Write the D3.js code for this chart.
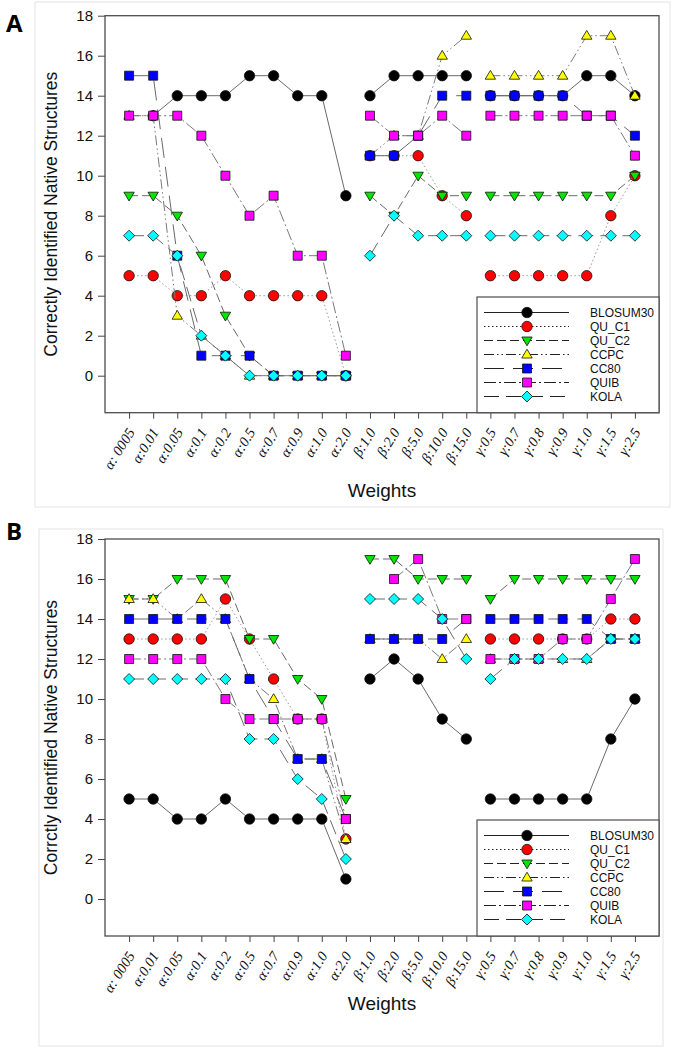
<!DOCTYPE html>
<html>
<head>
<meta charset="utf-8">
<script src="https://cdn.jsdelivr.net/npm/d3@7"></script>
<style>
  html, body { margin: 0; padding: 0; background: #fff; }
  svg { display: block; }
</style>
</head>
<body>
<svg id="chart" width="673" height="1050"></svg>
<script>
// ---------- DATA ----------
const categories = ["α: 0005","α:0.01","α:0.05","α:0.1","α:0.2","α:0.5","α:0.7","α:0.9","α:1.0","α:2.0",
  "β:1.0","β:2.0","β:5.0","β:10.0","β:15.0",
  "γ:0.5","γ:0.7","γ:0.8","γ:0.9","γ:1.0","γ:1.5","γ:2.5"];
const seriesNames = ["BLOSUM30","QU_C1","QU_C2","CCPC","CC80","QUIB","KOLA"];
const yTicks = [0,2,4,6,8,10,12,14,16,18];

// Panel A (null = no visible point)
const A_BLOSUM30 = [null,13,14,14,14,15,15,14,14,9, 14,15,15,15,15, 14,14,14,14,15,15,14];
const A_QU_C1    = [5,5,4,4,5,4,4,4,4,0,          11,11,11,9,8,    5,5,5,5,5,8,10];
const A_QU_C2    = [9,9,8,6,3,1,0,0,0,0,          9,8,10,9,9,      9,9,9,9,9,9,10];
const A_CCPC     = [13,13,3,2,1,0,0,0,0,0,        11,12,12,16,17,  15,15,15,15,17,17,14];
const A_CC80     = [15,15,6,1,1,1,0,0,0,0,        11,11,12,14,14,  14,14,14,14,13,13,12];
const A_QUIB     = [13,13,13,12,10,8,9,6,6,1,     13,12,12,13,12,  13,13,13,13,13,13,11];
const A_KOLA     = [7,7,6,2,1,0,0,0,0,0,          6,8,7,7,7,       7,7,7,7,7,7,7];

// Panel B
const B_BLOSUM30 = [5,5,4,4,5,4,4,4,4,1,          11,12,11,9,8,    5,5,5,5,5,8,10];
const B_QU_C1    = [13,13,13,13,15,13,11,9,9,3,   null,null,null,null,null, 13,13,13,13,13,14,14];
const B_QU_C2    = [15,15,16,16,16,13,13,11,10,5, 17,17,16,16,16,  15,16,16,16,16,16,16];
const B_CCPC     = [15,15,14,15,14,11,10,7,7,3,   13,13,13,12,13,  12,12,12,12,12,13,13];
const B_CC80     = [14,14,14,14,14,11,9,7,7,4,    13,13,13,13,14,  14,14,14,14,14,13,13];
const B_QUIB     = [12,12,12,12,10,9,9,9,9,4,     null,16,17,14,14, 12,12,12,13,13,15,17];
const B_KOLA     = [11,11,11,11,11,8,8,6,5,2,     15,15,15,14,12,  11,12,12,12,12,13,13];

// ---------- STYLES ----------
const styles = {
  BLOSUM30: {fill:"#000000", shape:"circle",   dash:null,               color:"#6a6a6a"},
  QU_C1:    {fill:"#ff0000", shape:"circle",   dash:"1.5,2.5",          color:"#9a9a9a"},
  QU_C2:    {fill:"#00e600", shape:"tridown",  dash:"9,4",              color:"#6a6a6a"},
  CCPC:     {fill:"#ffff00", shape:"triup",    dash:"10,3,1.5,3,1.5,3", color:"#7a7a7a"},
  CC80:     {fill:"#0000ff", shape:"square",   dash:"20,9",             color:"#6a6a6a"},
  QUIB:     {fill:"#ff00ff", shape:"square",   dash:"12,3,2,3",         color:"#7a7a7a"},
  KOLA:     {fill:"#00ffff", shape:"diamond",  dash:"15,7",             color:"#6a6a6a"}
};

function markerPath(shape) {
  switch (shape) {
    case "circle": return d3.symbol().type(d3.symbolCircle).size(Math.PI*5.2*5.2)();
    case "square": { const h=4.5; return `M${-h},${-h}H${h}V${h}H${-h}Z`; }
    case "triup":  return "M0,-5.3L5.2,3.5L-5.2,3.5Z";
    case "tridown":return "M0,5.3L5.2,-3.5L-5.2,-3.5Z";
    case "diamond":{ const h=5.5; return `M0,${-h}L${h},0L0,${h}L${-h},0Z`; }
  }
}

const svg = d3.select("#chart");

function drawPanel(cfg) {
  const {top, bottom, left, right, letter, letterY, boxRect, ytitle, wY, data, legendTop} = cfg;

  svg.append("rect").attr("x", boxRect[0]).attr("y", boxRect[1])
    .attr("width", boxRect[2]-boxRect[0]).attr("height", boxRect[3]-boxRect[1])
    .attr("fill","none").attr("stroke","#e4e4e4").attr("stroke-width",1);

  svg.append("text").attr("x", 6).attr("y", letterY)
    .attr("font-family","'Open Sans', 'Liberation Sans', Arial, sans-serif")
    .attr("font-weight","bold").attr("font-size",24).attr("fill","#000").text(letter);

  const x = d3.scalePoint().domain(categories).range([left, right]).padding(1);
  const y = d3.scaleLinear().domain([-1.85, 18]).range([bottom, top]);

  const g = svg.append("g");

  const ya = g.append("g").attr("transform", `translate(${left},0)`)
    .call(d3.axisLeft(y).tickValues(yTicks).tickSize(7).tickPadding(5));
  ya.select(".domain").remove();
  ya.selectAll("line").attr("stroke","#444");
  ya.selectAll("text").attr("font-family","'Liberation Sans', Arial, sans-serif")
    .attr("font-size",15).attr("fill","#111");

  const xa = g.append("g").attr("transform", `translate(0,${bottom})`)
    .call(d3.axisBottom(x).tickSize(6).tickFormat(""));
  xa.select(".domain").remove();
  xa.selectAll("line").attr("stroke","#444");
  g.append("g").selectAll("text").data(categories).enter().append("text")
    .attr("transform", d => `translate(${x(d)+6.3},${bottom+19.5}) rotate(-58)`)
    .attr("text-anchor","end")
    .attr("font-family","'Liberation Serif', 'Times New Roman', serif")
    .attr("font-style","italic").attr("font-size",14.5).attr("fill","#111")
    .text(d => d);

  g.append("rect").attr("x", left).attr("y", top).attr("width", right-left).attr("height", bottom-top)
    .attr("fill","none").attr("stroke","#4d4d4d").attr("stroke-width",1.3);

  g.append("text")
    .attr("transform", `translate(${57},${(top+bottom)/2}) rotate(-90)`)
    .attr("text-anchor","middle")
    .attr("font-family","'Liberation Sans', Arial, sans-serif")
    .attr("font-size",17.5).attr("fill","#111").text(ytitle);
  g.append("text").attr("x", (left+right)/2).attr("y", wY)
    .attr("text-anchor","middle")
    .attr("font-family","'Liberation Sans', Arial, sans-serif")
    .attr("font-size",19).attr("fill","#111").text("Weights");

  // groups (lines break between α, β, γ)
  const groups = d3.groups(categories.map((c,i)=>({c,i})), d => d.c[0]).map(gp => gp[1].map(d => d.i));

  const line = d3.line().defined(d => d.v != null)
    .x(d => x(categories[d.i])).y(d => y(d.v));

  seriesNames.forEach((name, si) => {
    const st = styles[name];
    const vals = data[si];
    const sg = g.append("g");
    groups.forEach(idx => {
      const pts = idx.map(i => ({i, v: vals[i]}));
      sg.append("path").attr("d", line(pts)).attr("fill","none")
        .attr("stroke", st.color).attr("stroke-width", 1)
        .attr("stroke-dasharray", st.dash);
    });
    sg.selectAll("path.m").data(vals.map((v,i)=>({v,i})).filter(d => d.v != null)).enter().append("path")
      .attr("class","m")
      .attr("d", markerPath(st.shape))
      .attr("transform", d => `translate(${x(categories[d.i])},${y(d.v)})`)
      .attr("fill", st.fill).attr("stroke","#111").attr("stroke-width",0.8);
  });

  const lg = g.append("g");
  lg.append("rect").attr("x", 477).attr("y", legendTop).attr("width", right-477).attr("height", bottom-legendTop)
    .attr("fill","#fff").attr("stroke","#4d4d4d").attr("stroke-width",1.2);
  seriesNames.forEach((name, i) => {
    const st = styles[name];
    const ly = legendTop + 15.5 + i*14;
    lg.append("line").attr("x1", 484).attr("x2", 569).attr("y1", ly).attr("y2", ly)
      .attr("stroke","#222").attr("stroke-width",1.2).attr("stroke-dasharray", st.dash);
    lg.append("path").attr("d", markerPath(st.shape)).attr("transform", `translate(527,${ly})`)
      .attr("fill", st.fill).attr("stroke","#111").attr("stroke-width",0.8);
    lg.append("text").attr("x", 590).attr("y", ly+4.3)
      .attr("font-family","'Liberation Sans', Arial, sans-serif")
      .attr("font-size",12).attr("fill","#111").text(name);
  });
}

drawPanel({
  top: 15.7, bottom: 412.7, left: 105, right: 659,
  letter: "A", letterY: 32, boxRect: [35, 2, 670, 507],
  ytitle: "Correctly Identified Native Structures", wY: 497,
  data: [A_BLOSUM30, A_QU_C1, A_QU_C2, A_CCPC, A_CC80, A_QUIB, A_KOLA],
  legendTop: 297
});
drawPanel({
  top: 539, bottom: 936, left: 105, right: 659,
  letter: "B", letterY: 540, boxRect: [39, 529, 663, 1046],
  ytitle: "Corrctly Identified Native Structures", wY: 1010,
  data: [B_BLOSUM30, B_QU_C1, B_QU_C2, B_CCPC, B_CC80, B_QUIB, B_KOLA],
  legendTop: 820
});
</script>
</body>
</html>
